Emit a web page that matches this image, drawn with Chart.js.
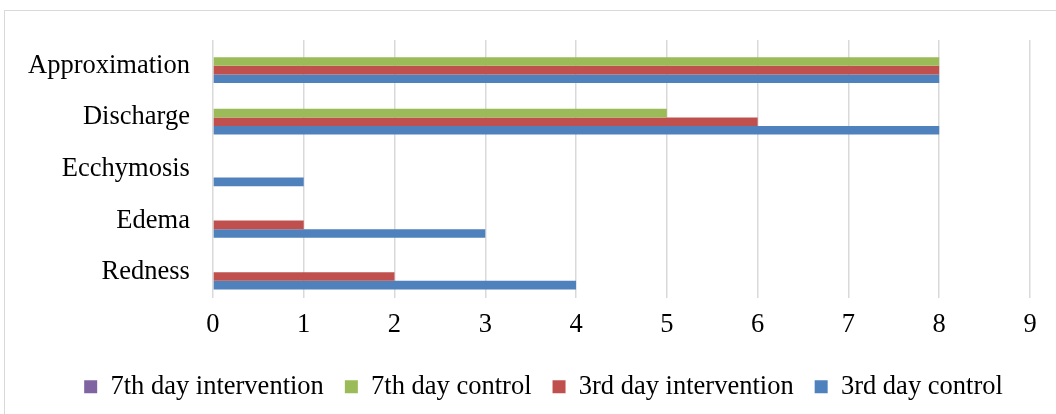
<!DOCTYPE html>
<html>
<head>
<meta charset="utf-8">
<script src="https://cdn.jsdelivr.net/npm/chart.js@4/dist/chart.umd.min.js"></script>
<style>
  html, body { margin: 0; padding: 0; background: #fff; overflow: hidden; }
  .frame {
    position: absolute; left: 4px; top: 10px;
    width: 1060px; height: 420px;
    border: 1px solid #d9d9d9;
  }
  .holder { position: absolute; left: 0; top: 0; width: 1051px; height: 403px; }
</style>
</head>
<body>
<div class="frame">
  <div class="holder"><canvas id="barChart"></canvas></div>
</div>
<script>
// categories, top to bottom
const categories = ['Approximation', 'Discharge', 'Ecchymosis', 'Edema', 'Redness'];

// series values (one per category)
const day7Intervention = [0, 0, 0, 0, 0];
const day7Control = [8, 5, 0, 0, 0];
const day3Intervention = [8, 6, 0, 1, 2];
const day3Control = [8, 8, 1, 3, 4];

const xTicks = [0, 1, 2, 3, 4, 5, 6, 7, 8, 9];

const serif = 'Liberation Serif, Times New Roman, serif';
const textSize = 26.5;

// Excel centres the legend a bit to the right of the canvas centre
const legendShift = {
  id: 'legendShift',
  afterLayout(chart) {
    if (chart.legend) {
      chart.legend.left += 26;
      chart.legend.right += 26;
    }
  }
};

const canvas = document.getElementById('barChart');

new Chart(canvas, {
  type: 'bar',
  data: {
    labels: categories,
    datasets: [{
      label: '7th day intervention',
      data: day7Intervention,
      backgroundColor: '#8064A2'
    }, {
      label: '7th day control',
      data: day7Control,
      backgroundColor: '#9BBB59'
    }, {
      label: '3rd day intervention',
      data: day3Intervention,
      backgroundColor: '#C0504D'
    }, {
      label: '3rd day control',
      data: day3Control,
      backgroundColor: '#4F81BD'
    }]
  },
  options: {
    indexAxis: 'y',
    responsive: true,
    maintainAspectRatio: false,
    animation: false,
    categoryPercentage: 0.667,
    barPercentage: 1,
    layout: {
      padding: { left: 0, right: 26, top: 29, bottom: 4 }
    },
    scales: {
      x: {
        min: xTicks[0],
        max: xTicks[xTicks.length - 1],
        afterBuildTicks: axis => {
          axis.ticks = xTicks.map(v => ({ value: v }));
        },
        ticks: {
          color: '#000',
          font: { family: serif, size: textSize, lineHeight: 1 },
          padding: 14
        },
        grid: {
          color: '#d9d9d9',
          lineWidth: 1.5,
          drawTicks: false
        },
        border: { display: false }
      },
      y: {
        // category labels sit inside their bands, no extra room needed above/below
        afterFit: axis => {
          axis.paddingTop = 0;
          axis.paddingBottom = 0;
        },
        ticks: {
          color: '#000',
          font: { family: serif, size: textSize },
          padding: 23
        },
        grid: { display: false, drawTicks: false },
        border: { display: false }
      }
    },
    plugins: {
      legend: {
        position: 'bottom',
        labels: {
          color: '#000',
          font: { family: serif, size: textSize },
          boxWidth: 13,
          boxHeight: 13,
          padding: 21
        }
      },
      tooltip: { enabled: false }
    }
  },
  plugins: [legendShift]
});
</script>
</body>
</html>
